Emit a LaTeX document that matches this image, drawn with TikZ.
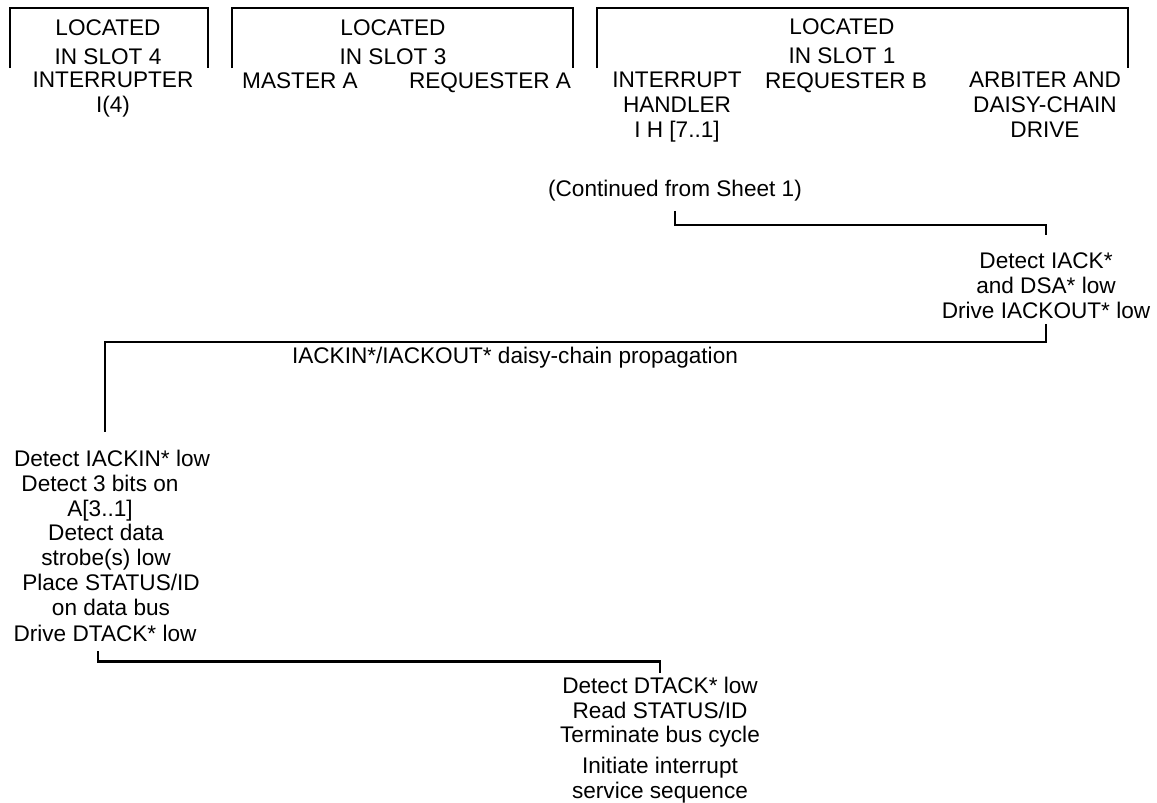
\documentclass[tikz,border=0pt]{standalone}
\usepackage{fontspec}
\setmainfont{Liberation Sans}
\usepackage{tikz}
\tikzset{
  link/.style={line width=1.2pt},
  bracket/.style={line width=1.3pt},
  lbl/.style={inner sep=0pt, align=center, anchor=north, font=\fontsize{11.3}{12.5}\selectfont},
  slothead/.style={lbl, font=\fontsize{11.3}{14.5}\selectfont},
  seqtext/.style={lbl, font=\fontsize{11.3}{12.3}\selectfont}
}
\begin{document}
\begin{tikzpicture}[x=0.5pt, y=-0.5pt]
  \useasboundingbox (0,0) rectangle (1157,803);
  \foreach \l/\r in {10/208, 232/573, 597/1128}
    \draw[bracket] (\l,68) |- (\r,8) -- (\r,68);
  \node[slothead] (s4head) at (108,19) {LOCATED\\IN SLOT 4};
  \node[slothead] (s3head) at (393,19) {LOCATED\\IN SLOT 3};
  \node[slothead] (s1head) at (842,18) {LOCATED\\IN SLOT 1};
  \node[lbl] (intr) at (113,72) {INTERRUPTER\\I(4)};
  \node[lbl] (mastA) at (300,72) {MASTER A};
  \node[lbl] (reqA) at (490,72) {REQUESTER A};
  \node[lbl] (ih) at (677,72) {INTERRUPT\\HANDLER\\I H [7..1]};
  \node[lbl] (reqB) at (846,72) {REQUESTER B};
  \node[lbl] (arb) at (1045,72) {ARBITER AND\\DAISY-CHAIN\\DRIVE};
  \node[lbl] (cont) at (675,180) {(Continued from Sheet 1)};
  \node[lbl] (iack) at (1046,252) {Detect IACK*\\and DSA* low\\Drive IACKOUT* low};
  \node[lbl] (prop) at (515,347) {IACKIN*/IACKOUT* daisy-chain propagation};
  \node[lbl] (iackin) at (112,450) {Detect IACKIN* low};
  \node[lbl] (bits) at (100,475) {Detect 3 bits on\\A[3..1]};
  \node[lbl] (strobe) at (106,524) {Detect data\\strobe(s) low};
  \node[lbl] (status) at (111,574) {Place STATUS/ID\\on data bus};
  \node[lbl] (dtack) at (105,625) {Drive DTACK* low};
  \node[seqtext] (rdstat) at (660,677) {Detect DTACK* low\\Read STATUS/ID\\Terminate bus cycle};
  \node[seqtext] (isr) at (660,757) {Initiate interrupt\\service sequence};
  \draw[link] ([yshift=-4.5pt]cont.south) -- ++(0,14) -| ([yshift=8.5pt]iack.north);
  \draw[link] ([yshift=-2.5pt]iack.south) -- ++(0,18) -| ([xshift=-3.5pt,yshift=9pt]iackin.north);
  \draw[link] ([xshift=-3.5pt,yshift=-4.5pt]dtack.south) -- ++(0,10) -| ([yshift=2pt]rdstat.north);
\end{tikzpicture}
\end{document}
